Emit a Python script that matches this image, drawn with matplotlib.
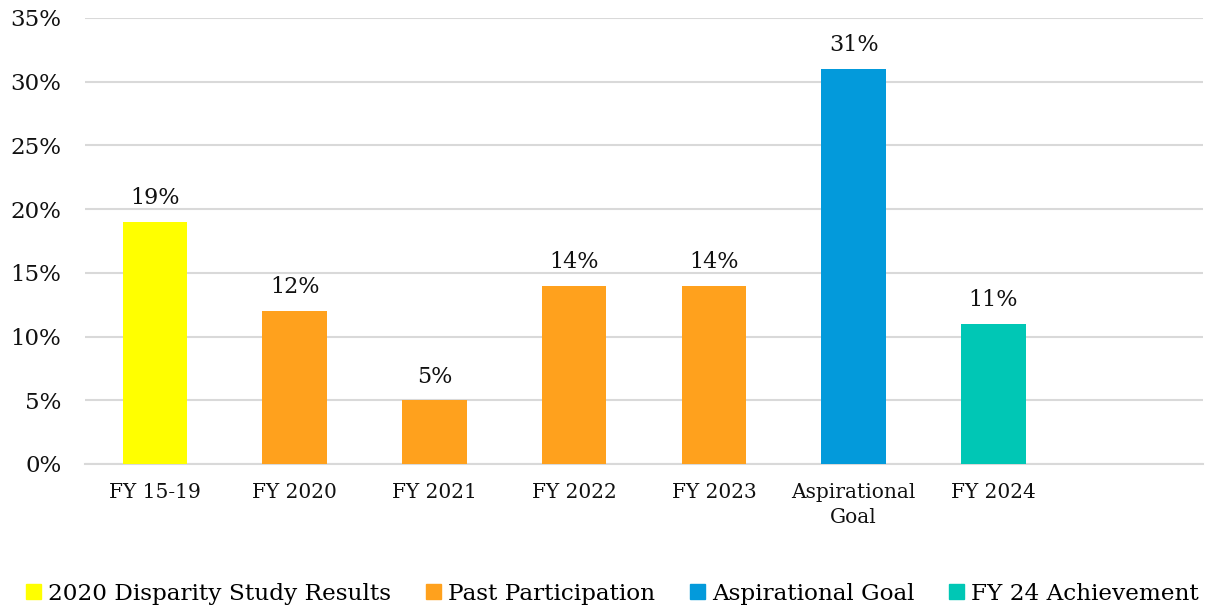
import matplotlib.pyplot as plt
from matplotlib.patches import Patch

categories = ['FY 15-19', 'FY 2020', 'FY 2021', 'FY 2022', 'FY 2023',
              'Aspirational\nGoal', 'FY 2024', '']
values = [19, 12, 5, 14, 14, 31, 11, None]
groups = ['2020 Disparity Study Results', 'Past Participation', 'Past Participation',
          'Past Participation', 'Past Participation', 'Aspirational Goal',
          'FY 24 Achievement', None]
legend_names = ['2020 Disparity Study Results', 'Past Participation',
                'Aspirational Goal', 'FY 24 Achievement']
colors = {'2020 Disparity Study Results': '#FFFF00',
          'Past Participation': '#FFA11D',
          'Aspirational Goal': '#039ADB',
          'FY 24 Achievement': '#00C7B5'}

plt.rcParams['font.family'] = ['DejaVu Serif']

fig = plt.figure(figsize=(12.06, 6.11), dpi=100)
ax = fig.add_axes([0.0705, 0.2406, 0.927, 0.73])

x = list(range(len(categories)))
for i, (v, g) in enumerate(zip(values, groups)):
    if v is None:
        continue
    ax.bar(i, v, width=0.46, color=colors[g], zorder=3)
    ax.text(i, v + 1.0, f'{v}%', ha='center', va='bottom', fontsize=16, color='#111111')

ax.set_xlim(-0.5, len(categories) - 0.5)
ax.set_ylim(0, 35)
ax.set_yticks(range(0, 36, 5))
ax.set_yticklabels([f'{t}%' for t in range(0, 36, 5)], fontsize=16.5)
ax.set_xticks(x)
ax.set_xticklabels(categories, fontsize=14.5, linespacing=1.35)
ax.tick_params(axis='both', length=0, colors='#111111')
ax.tick_params(axis='x', pad=14)
ax.tick_params(axis='y', pad=17)
ax.grid(axis='y', color='#D9D9D9', linewidth=1.5, zorder=0)
for s in ['top', 'right', 'left']:
    ax.spines[s].set_visible(False)
ax.spines['bottom'].set_color('#D9D9D9')
ax.spines['bottom'].set_linewidth(1.5)

handles = [Patch(color=colors[n], label=n) for n in legend_names]
fig.legend(handles=handles, loc='center', bbox_to_anchor=(0.508, 0.028), ncol=4,
           frameon=False, fontsize=16.7, handlelength=0.65, handleheight=0.65,
           handletextpad=0.3, columnspacing=1.5)

fig.savefig('out.png', dpi=100)
